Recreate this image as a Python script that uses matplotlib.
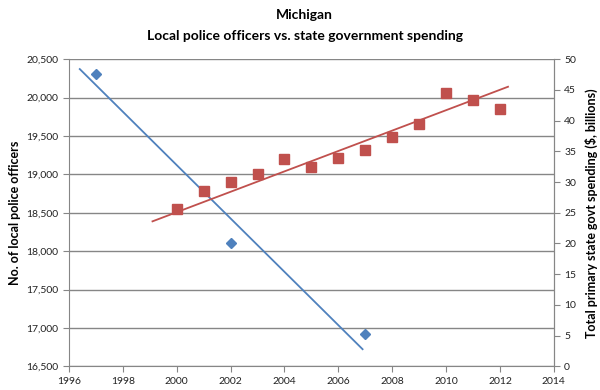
import matplotlib.pyplot as plt

# Datos
anios_policia = [1997, 2001, 2002, 2007]
policias = [20300, 18780, 18100, 16920]

anios_gasto = [2000, 2001, 2002, 2003, 2004, 2005, 2006, 2007, 2008, 2009, 2010, 2011, 2012]
gasto = [25.6, 28.5, 30.0, 31.3, 33.7, 32.4, 33.9, 35.2, 37.3, 39.4, 44.5, 43.3, 41.8]

# Lineas de tendencia (extremos)
tend_policia_x = [1996.4, 2006.9]
tend_policia_y = [20370, 16724]
tend_gasto_x = [1999.1, 2012.3]
tend_gasto_y = [23.6, 45.5]

azul = '#4F81BD'
rojo = '#C0504D'
gris = '#868686'
fuente = ['Lato', 'DejaVu Sans']

plt.rcParams['font.family'] = fuente

fig = plt.figure(figsize=(6, 3.9), dpi=100)
ax = fig.add_axes([0.115, 0.0605, 0.808, 0.788])
ax2 = ax.twinx()

ax.set_xlim(1996, 2014)
ax.set_ylim(16500, 20500)
ax2.set_ylim(0, 50)
ax.set_xticks(range(1996, 2015, 2))
ax.set_yticks(range(16500, 20501, 500))
ax.set_yticklabels([f'{v:,}' for v in range(16500, 20501, 500)])
ax2.set_yticks(range(0, 51, 5))

ax.grid(axis='y', color=gris, linewidth=1)
ax.set_axisbelow(True)

for a in (ax, ax2):
    a.spines['top'].set_visible(False)
    for s in ('left', 'right', 'bottom'):
        a.spines[s].set_color(gris)
    a.tick_params(colors=gris, labelcolor='#222222', labelsize=7.5, length=4, direction='out')
ax2.spines['left'].set_visible(False)
ax2.spines['bottom'].set_visible(False)

ax.plot(anios_policia, policias, 'D', color=azul, markersize=5.5, zorder=2)
ax.plot(tend_policia_x, tend_policia_y, color=azul, linewidth=1.3, zorder=2)

ax2.plot(anios_gasto, gasto, 's', color=rojo, markersize=7, zorder=3)
ax2.plot(tend_gasto_x, tend_gasto_y, color=rojo, linewidth=1.3, zorder=3)

ax.set_ylabel('No. of local police officers', fontsize=9, fontweight='bold', labelpad=4)
ax2.set_ylabel('Total primary state govt spending ($, billions)', fontsize=9, fontweight='bold', labelpad=6)

fig.text(0.508, 0.962, 'Michigan', ha='center', va='center', fontsize=10, fontweight='bold')
fig.text(0.508, 0.907, 'Local police officers vs. state government spending', ha='center', va='center',
         fontsize=10, fontweight='bold')

fig.savefig('out.png', dpi=100)
